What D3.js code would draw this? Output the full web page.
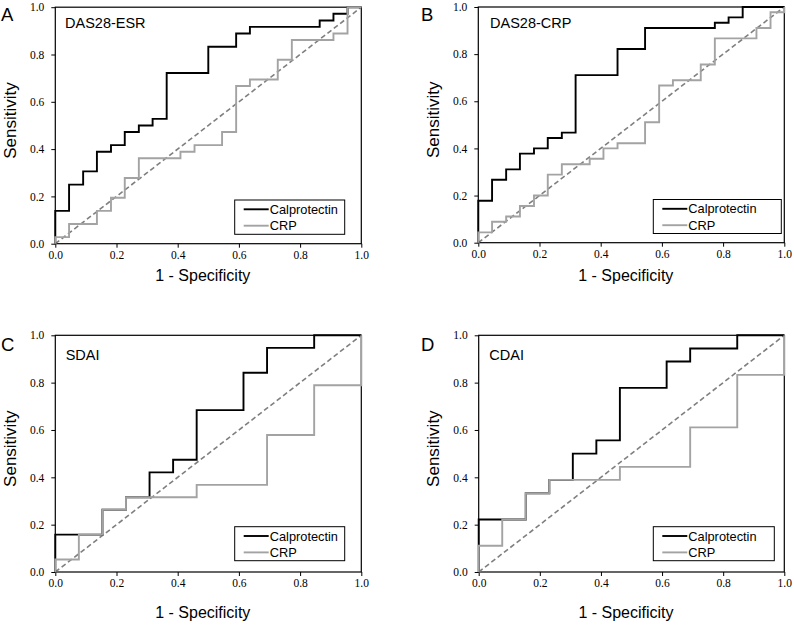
<!DOCTYPE html>
<html><head><meta charset="utf-8">
<script src="https://cdn.jsdelivr.net/npm/d3@7"></script>
<style>
html,body{margin:0;padding:0;background:#fff;}
svg{display:block;}
</style></head>
<body>
<svg id="chart" width="794" height="625"></svg>
<script>
// ---------- DATA ----------
const panelKeys = ["A", "B", "C", "D"];
const panelTitles = ["DAS28-ESR", "DAS28-CRP", "SDAI", "CDAI"];
const seriesNames = ["Calprotectin", "CRP"];
const tickValues = [0.0, 0.2, 0.4, 0.6, 0.8, 1.0];
const tickLabels = ["0.0", "0.2", "0.4", "0.6", "0.8", "1.0"];
const xAxisTitle = "1 - Specificity";
const yAxisTitle = "Sensitivity";

// Panel A (DAS28-ESR)
const aCalFpr = [0, 0, 0.045, 0.091, 0.136, 0.182, 0.227, 0.273, 0.318, 0.364, 0.5, 0.591, 0.636, 0.864, 0.909, 0.955, 1.0];
const aCalTpr = [0, 0.139, 0.25, 0.306, 0.389, 0.417, 0.472, 0.5, 0.528, 0.722, 0.833, 0.889, 0.917, 0.944, 0.972, 1.0, 1.0];
const aCrpFpr = [0, 0, 0.045, 0.136, 0.182, 0.227, 0.273, 0.409, 0.455, 0.545, 0.591, 0.636, 0.727, 0.773, 0.909, 0.955, 1.0];
const aCrpTpr = [0, 0.028, 0.083, 0.139, 0.194, 0.278, 0.361, 0.389, 0.417, 0.472, 0.667, 0.694, 0.778, 0.861, 0.889, 1.0, 1.0];

// Panel B (DAS28-CRP)
const bCalFpr = [0, 0, 0.045, 0.091, 0.136, 0.182, 0.227, 0.273, 0.318, 0.455, 0.545, 0.773, 0.818, 0.864, 1.0];
const bCalTpr = [0, 0.178, 0.267, 0.311, 0.378, 0.4, 0.444, 0.467, 0.711, 0.822, 0.911, 0.933, 0.956, 1.0, 1.0];
const bCrpFpr = [0, 0, 0.045, 0.091, 0.136, 0.182, 0.227, 0.273, 0.364, 0.409, 0.455, 0.545, 0.591, 0.636, 0.727, 0.773, 0.909, 0.955, 1.0];
const bCrpTpr = [0, 0.044, 0.089, 0.111, 0.156, 0.2, 0.289, 0.333, 0.356, 0.4, 0.422, 0.511, 0.667, 0.689, 0.756, 0.867, 0.911, 0.978, 1.0];

// Panel C (SDAI)
const cCalFpr = [0, 0, 0.154, 0.231, 0.308, 0.385, 0.462, 0.615, 0.692, 0.846, 1.0];
const cCalTpr = [0, 0.158, 0.263, 0.316, 0.421, 0.474, 0.684, 0.842, 0.947, 1.0, 1.0];
const cCrpFpr = [0, 0, 0.077, 0.154, 0.231, 0.462, 0.692, 0.846, 1.0];
const cCrpTpr = [0, 0.053, 0.158, 0.263, 0.316, 0.368, 0.579, 0.789, 1.0];

// Panel D (CDAI)
const dCalFpr = [0, 0, 0.154, 0.231, 0.308, 0.385, 0.462, 0.615, 0.692, 0.846, 1.0];
const dCalTpr = [0, 0.222, 0.333, 0.389, 0.5, 0.556, 0.778, 0.889, 0.944, 1.0, 1.0];
const dCrpFpr = [0, 0, 0.077, 0.154, 0.231, 0.462, 0.692, 0.846, 1.0];
const dCrpTpr = [0, 0.111, 0.222, 0.333, 0.389, 0.444, 0.611, 0.833, 1.0];

const calFprAll = [aCalFpr, bCalFpr, cCalFpr, dCalFpr];
const calTprAll = [aCalTpr, bCalTpr, cCalTpr, dCalTpr];
const crpFprAll = [aCrpFpr, bCrpFpr, cCrpFpr, dCrpFpr];
const crpTprAll = [aCrpTpr, bCrpTpr, cCrpTpr, dCrpTpr];

// ---------- LAYOUT ----------
const layout = [
  {left: 55.3, top: 7.2, w: 306, h: 236.5, legend: [234.7, 200, 110, 34.3], xlabY: 280.5, ylabX: 9.5, letter: [1, 20.5], title: [65, 28.3]},
  {left: 478.3, top: 7.0, w: 306, h: 235.7, legend: [653.3, 199.5, 128, 34], xlabY: 280.5, ylabX: 432.5, letter: [421, 20.5], title: [490, 28.3]},
  {left: 55.3, top: 335.3, w: 306, h: 236.7, legend: [234.7, 526.7, 110, 34], xlabY: 618, ylabX: 9.5, letter: [1, 350.5], title: [65.7, 360]},
  {left: 478.7, top: 335.3, w: 305.6, h: 236.7, legend: [653.3, 526.7, 121, 34], xlabY: 618, ylabX: 432.5, letter: [421, 350.5], title: [489.3, 360]}
];

const BLACK = "#000000";
const GRAY = "#a3a3a3";
const DIAG = "#7f7f7f";
const SANS = "'Liberation Sans', Arial, sans-serif";
const SERIF = "'Liberation Serif', 'Times New Roman', serif";

const svg = d3.select("#chart");

panelKeys.forEach((key, i) => {
  const L = layout[i];
  const x = d3.scaleLinear().domain([0, 1]).range([L.left, L.left + L.w]);
  const y = d3.scaleLinear().domain([0, 1]).range([L.top + L.h, L.top]);
  const g = svg.append("g");

  // axes
  const xAxis = d3.axisBottom(x).tickValues(tickValues).tickFormat((d, j) => tickLabels[j]).tickSizeInner(4).tickSizeOuter(0).tickPadding(3);
  const yAxis = d3.axisLeft(y).tickValues(tickValues).tickFormat((d, j) => tickLabels[j]).tickSizeInner(4).tickSizeOuter(0).tickPadding(7);
  const gx = g.append("g").attr("transform", `translate(0,${L.top + L.h})`).call(xAxis);
  const gy = g.append("g").attr("transform", `translate(${L.left},0)`).call(yAxis);
  [gx, gy].forEach(ax => {
    ax.select(".domain").remove();
    ax.selectAll("line").attr("stroke", "#000").attr("stroke-width", 1);
    ax.selectAll("text").attr("font-family", SERIF).attr("font-size", 11.5).attr("fill", "#000");
  });

  // frame
  g.append("rect").attr("x", x(0)).attr("y", y(1)).attr("width", x(1) - x(0)).attr("height", y(0) - y(1))
    .attr("fill", "none").attr("stroke", "#000").attr("stroke-width", 1.2);

  // diagonal
  g.append("line").attr("x1", x(0)).attr("y1", y(0)).attr("x2", x(1)).attr("y2", y(1))
    .attr("stroke", DIAG).attr("stroke-width", 1.6).attr("stroke-dasharray", "5,3");

  const line = d3.line().x(d => x(d[0])).y(d => y(d[1])).curve(d3.curveStepAfter);
  const cal = calFprAll[i].map((v, j) => [v, calTprAll[i][j]]);
  const crp = crpFprAll[i].map((v, j) => [v, crpTprAll[i][j]]);
  g.append("path").attr("d", line(cal)).attr("fill", "none").attr("stroke", BLACK).attr("stroke-width", 1.9);
  g.append("path").attr("d", line(crp)).attr("fill", "none").attr("stroke", GRAY).attr("stroke-width", 1.9);

  // legend
  const [lx, ly, lw, lh] = L.legend;
  g.append("rect").attr("x", lx).attr("y", ly).attr("width", lw).attr("height", lh)
    .attr("fill", "#fff").attr("stroke", "#000").attr("stroke-width", 1);
  const colors = [BLACK, GRAY];
  seriesNames.forEach((name, k) => {
    const ry = ly + 9.3 + k * 16.4;
    g.append("line").attr("x1", lx + 9).attr("x2", lx + 34).attr("y1", ry).attr("y2", ry)
      .attr("stroke", colors[k]).attr("stroke-width", 1.9);
    g.append("text").attr("x", lx + 35).attr("y", ry + 4.5).text(name)
      .attr("font-family", SANS).attr("font-size", 12.8).attr("fill", "#000");
  });

  // titles
  g.append("text").attr("x", L.title[0]).attr("y", L.title[1]).text(panelTitles[i])
    .attr("font-family", SANS).attr("font-size", 14.5).attr("fill", "#000");
  g.append("text").attr("x", L.letter[0]).attr("y", L.letter[1]).text(key)
    .attr("font-family", SANS).attr("font-size", 18.5).attr("fill", "#000");

  // axis titles
  g.append("text").attr("x", (x(0) + x(1)) / 2 - 5.5).attr("y", L.xlabY).attr("text-anchor", "middle")
    .text(xAxisTitle).attr("font-family", SANS).attr("font-size", 16).attr("fill", "#000");
  g.append("text").attr("transform", `translate(${L.ylabX + 6},${(y(0) + y(1)) / 2 - 5}) rotate(-90)`)
    .attr("text-anchor", "middle").text(yAxisTitle)
    .attr("font-family", SANS).attr("font-size", 17).attr("fill", "#000");
});
</script>
</body></html>
